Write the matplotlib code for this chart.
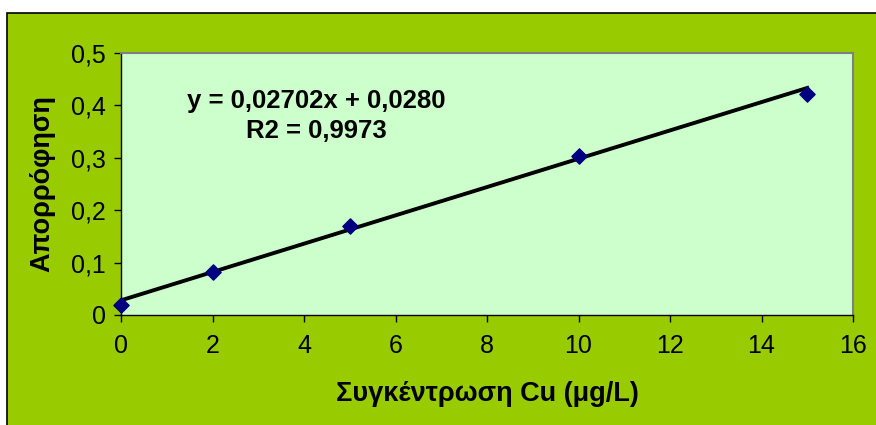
import numpy as np
import matplotlib.pyplot as plt
from matplotlib.patches import Rectangle
from matplotlib.ticker import FuncFormatter

# data
conc = [0, 2, 5, 10, 15]
absorb = [0.020, 0.083, 0.170, 0.303, 0.422]
slope, intercept = 0.02702, 0.0280
eq_text = "y = 0,02702x + 0,0280\nR2 = 0,9973"

plt.rcParams['font.family'] = ['Liberation Sans', 'DejaVu Sans']

fig = plt.figure(figsize=(8.76, 4.25), dpi=100)
fig.patch.set_facecolor('white')

# green chart area with black border
W, H = 876, 425
fig.patches.append(Rectangle((7 / W, -0.01), 1.0, (H - 13) / H + 0.01,
                             transform=fig.transFigure, facecolor='#99CC00',
                             edgecolor='black', linewidth=1.2, zorder=-5))

ax = fig.add_axes([121 / W, 1 - 315 / H, (853 - 121) / W, (315 - 53) / H])
ax.set_zorder(1)
ax.set_facecolor('#CCFFCC')

xs = np.array([conc[0], conc[-1]])
ax.plot(xs, slope * xs + intercept, color='black', linewidth=2.8, zorder=2)
ax.scatter(conc, absorb, marker='D', s=60, color='#000080', zorder=3, clip_on=False)

ax.set_xlim(0, 16)
ax.set_ylim(0, 0.5)
ax.set_xticks(np.arange(0, 17, 2))
ax.set_yticks(np.arange(0, 0.51, 0.1))
ax.yaxis.set_major_formatter(FuncFormatter(lambda v, p: '0' if v == 0 else f"{v:.1f}".replace('.', ',')))

for s in ['top', 'right']:
    ax.spines[s].set_color('#808080')
    ax.spines[s].set_linewidth(1.5)
for s in ['left', 'bottom']:
    ax.spines[s].set_color('black')
    ax.spines[s].set_linewidth(1.0)

ax.tick_params(axis='both', direction='out', length=5, width=1, labelsize=18, colors='black')
ax.tick_params(axis='x', pad=9)
ax.tick_params(axis='y', pad=6)

ax.set_xlabel("Συγκέντρωση Cu (μg/L)", fontsize=19.5, fontweight='bold', labelpad=16)
ax.set_ylabel("Απορρόφηση", fontsize=19.5, fontweight='bold', labelpad=11)

ax.text((316 - 121) / (853 - 121), 1 - (116 - 53) / (315 - 53), eq_text,
        transform=ax.transAxes, ha='center', va='center', fontsize=18.5,
        fontweight='bold', linespacing=1.28)

fig.savefig('out.png', dpi=100, facecolor=fig.get_facecolor())
